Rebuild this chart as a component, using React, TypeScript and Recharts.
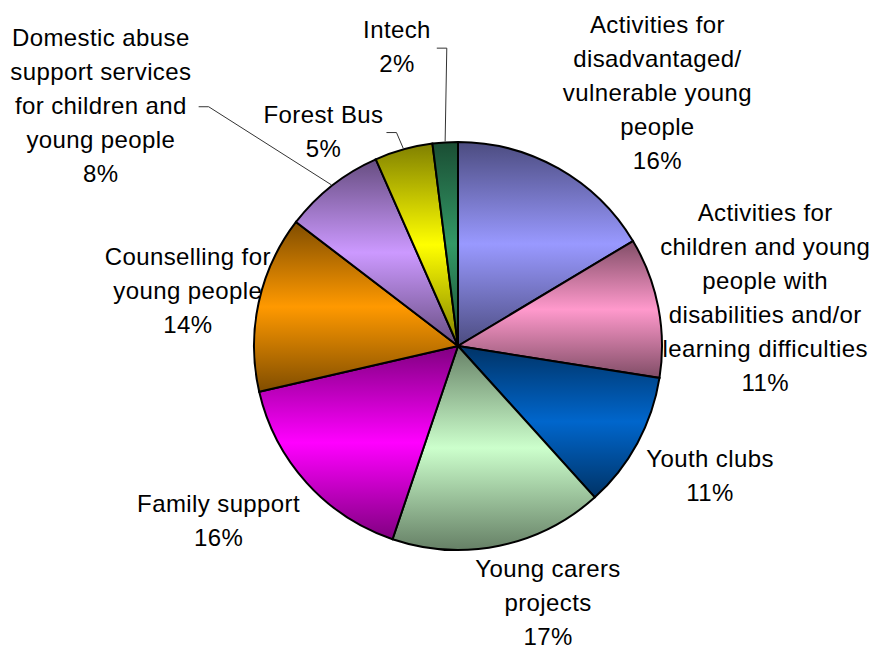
import { PieChart, Pie, Cell } from "recharts";

// slices clockwise from 12 o'clock
const categories = [
  "Activities for\ndisadvantaged/\nvulnerable young\npeople",
  "Activities for\nchildren and young\npeople with\ndisabilities and/or\nlearning difficulties",
  "Youth clubs",
  "Young carers\nprojects",
  "Family support",
  "Counselling for\nyoung people",
  "Domestic abuse\nsupport services\nfor children and\nyoung people",
  "Forest Bus",
  "Intech",
];
const shares = [16.4, 11.1, 10.8, 16.9, 16.2, 14.0, 8.0, 4.6, 2.0];

// [light, dark] for the top/bottom fade in each slice
const colours = [
  ["#9999FF", "#4C4C80"],
  ["#FF99CC", "#804D66"],
  ["#0066CC", "#003366"],
  ["#CCFFCC", "#668066"],
  ["#FF00FF", "#800080"],
  ["#FF9900", "#804D00"],
  ["#CC99FF", "#664D80"],
  ["#FFFF00", "#808000"],
  ["#339966", "#1A4D33"],
];

// label placement: distance from centre and angle nudge (deg, clockwise)
const labelLayout = [
  { r: 323, shift: 8.6 },
  { r: 311, shift: 2.0 },
  { r: 283, shift: -1.4 },
  { r: 271, shift: -7.7 },
  { r: 296, shift: 6.1 },
  { r: 276, shift: -0.5 },
  { r: 431, shift: -17.8, leader: true },
  { r: 254, shift: -16.5, leader: true },
  { r: 306, shift: -7.9, leader: true },
];

const data = categories.map((name, i) => ({ name, value: shares[i] }));

const FONT = "'Liberation Sans', Arial, sans-serif";
const LINE_H = 34;
const RAD = Math.PI / 180;

function renderLabel(props: any) {
  const { cx, cy, midAngle, outerRadius, percent, index } = props;
  const lay = labelLayout[index];
  const theta = 90 - midAngle; // clockwise from top
  const a = (theta + lay.shift) * RAD;
  const lx = cx + lay.r * Math.sin(a);
  const ly = cy - lay.r * Math.cos(a);
  const lines = [...categories[index].split("\n"), `${Math.round(percent * 100)}%`];
  const y0 = ly - ((lines.length - 1) / 2) * LINE_H;

  let leader = null;
  if (lay.leader) {
    const longest = Math.max(...lines.map((l) => l.length));
    const hw = longest * 5.8;
    const sx = lx + hw + 5;
    const sy = ly + 2;
    const ex = cx + (outerRadius + 1) * Math.sin(theta * RAD);
    const ey = cy - (outerRadius + 1) * Math.cos(theta * RAD);
    leader = (
      <path
        d={`M${sx},${sy}L${sx + 10},${sy}L${ex},${ey}`}
        stroke="#333"
        strokeWidth={1}
        fill="none"
      />
    );
  }

  return (
    <g key={`lbl-${index}`}>
      {leader}
      <text
        x={lx}
        y={y0}
        textAnchor="middle"
        dominantBaseline="central"
        fontFamily={FONT}
        fontSize={24}
        letterSpacing={0.4}
        fill="#000"
      >
        {lines.map((l, i) => (
          <tspan key={i} x={lx} y={y0 + i * LINE_H}>
            {l}
          </tspan>
        ))}
      </text>
    </g>
  );
}

export default function App() {
  return (
    <>
      {/* chart runs into the bottom body margin; stop a scrollbar appearing */}
      <style>{`body { overflow: hidden; }`}</style>
      <PieChart
        width={864}
        height={642}
        margin={{ top: 0, right: 0, bottom: 0, left: 0 }}
      >
        <defs>
          {colours.map(([light, dark], i) => (
            <linearGradient key={i} id={`slice${i}`} x1="0" y1="0" x2="0" y2="1">
              <stop offset="0%" stopColor={dark} />
              <stop offset="50%" stopColor={light} />
              <stop offset="100%" stopColor={dark} />
            </linearGradient>
          ))}
        </defs>
        <Pie
          data={data}
          dataKey="value"
          nameKey="name"
          cx={450}
          cy={338}
          outerRadius={204}
          startAngle={90}
          endAngle={-270}
          stroke="#000"
          strokeWidth={2}
          labelLine={false}
          label={renderLabel}
          isAnimationActive={false}
        >
          {data.map((_, i) => (
            <Cell key={i} fill={`url(#slice${i})`} />
          ))}
        </Pie>
      </PieChart>
    </>
  );
}
